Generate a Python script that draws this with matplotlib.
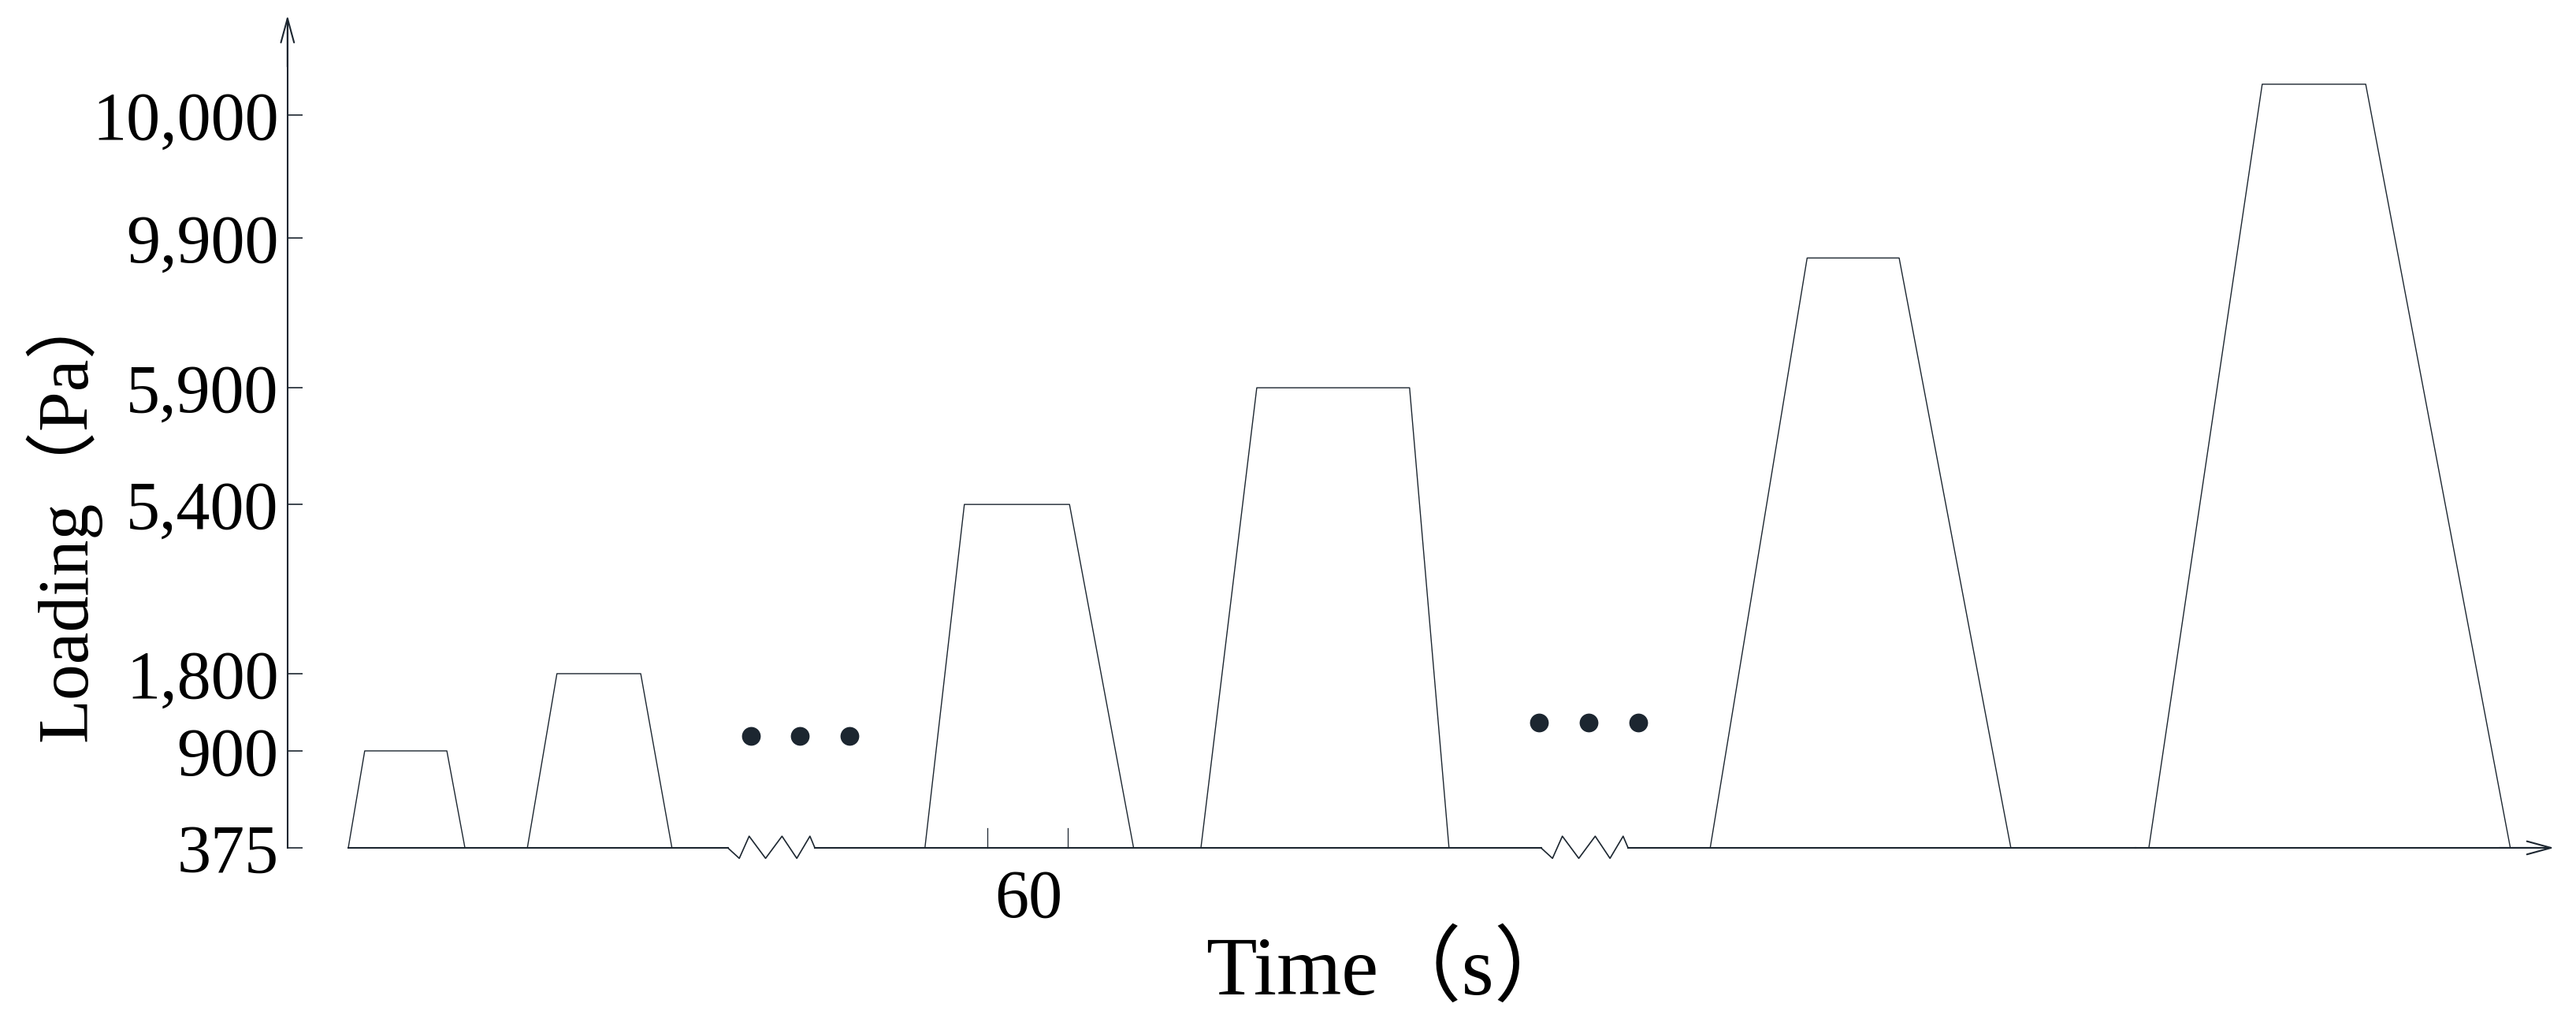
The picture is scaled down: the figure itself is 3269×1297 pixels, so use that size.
import numpy as np
import matplotlib.pyplot as plt

# y axis is not linear: each tick label sits at its own height
TICK_VALUES = [375, 900, 1800, 5400, 5900, 9900, 10000]
TICK_LABELS = ["375", "900", "1,800", "5,400", "5,900", "9,900", "10,000"]
TICK_POS = [106, 165, 212, 315, 386, 477, 552]

# trapezoid loading pulses: base start, top start, top end, base end, peak
BASE_L = [212, 321, 563, 731, 1041, 1308]
TOP_L = [222, 339, 587, 765, 1100, 1377]
TOP_R = [272, 390, 651, 858, 1156, 1440]
BASE_R = [283, 409, 690, 882, 1224, 1528]
PEAKS = [900, 1800, 5400, 5900, 9372, 10025]

BASELINE = 375
# baseline pieces between zigzag breaks
SEG_START = [212, 496, 991]
SEG_END = [443, 938, 1300]
ZIG_X0 = [443, 938]
ZIG_DX = [0, 7, 13, 23, 33, 42, 50, 53]
ZIG_DY = [0, -57, 63, -57, 63, -57, 63, 0]

DOTS_X = [[457, 487, 517], [937, 967, 997]]
DOTS_Y = [1072, 1226]

X_TICKS = [601, 650]


def fwd(v):
    v = np.asarray(v, dtype=float)
    out = np.interp(v, TICK_VALUES, TICK_POS)
    lo = (TICK_POS[1] - TICK_POS[0]) / (TICK_VALUES[1] - TICK_VALUES[0])
    hi = (TICK_POS[-1] - TICK_POS[-2]) / (TICK_VALUES[-1] - TICK_VALUES[-2])
    out = np.where(v < TICK_VALUES[0], TICK_POS[0] + (v - TICK_VALUES[0]) * lo, out)
    out = np.where(v > TICK_VALUES[-1], TICK_POS[-1] + (v - TICK_VALUES[-1]) * hi, out)
    return out


def inv(p):
    p = np.asarray(p, dtype=float)
    out = np.interp(p, TICK_POS, TICK_VALUES)
    lo = (TICK_VALUES[1] - TICK_VALUES[0]) / (TICK_POS[1] - TICK_POS[0])
    hi = (TICK_VALUES[-1] - TICK_VALUES[-2]) / (TICK_POS[-1] - TICK_POS[-2])
    out = np.where(p < TICK_POS[0], TICK_VALUES[0] + (p - TICK_POS[0]) * lo, out)
    out = np.where(p > TICK_POS[-1], TICK_VALUES[-1] + (p - TICK_POS[-1]) * hi, out)
    return out


FONT = ["Liberation Serif", "Noto Sans CJK SC"]
INK = "#1c2630"

fig = plt.figure(figsize=(32.69, 12.97), dpi=100)
ax = fig.add_axes([0, 0, 1, 1])
ax.set_yscale("function", functions=(fwd, inv))
ax.set_xlim(0, 1568)
ax.set_ylim(float(inv(0)), float(inv(622)))
for s in ["top", "right", "bottom"]:
    ax.spines[s].set_visible(False)
ax.spines["left"].set_position(("data", 175))
ax.spines["left"].set_bounds(BASELINE, float(inv(610)))
ax.spines["left"].set_color(INK)
ax.spines["left"].set_linewidth(1.5)

ax.set_yticks(TICK_VALUES)
ax.set_yticklabels(TICK_LABELS, family=FONT, fontsize=62)
ax.tick_params(axis="y", direction="in", length=14, width=1.2, color=INK, pad=8)
ax.minorticks_off()
ax.set_xticks([])

# y arrow head
ax.annotate("", xy=(175, float(inv(614))), xytext=(175, float(inv(580))),
            arrowprops=dict(arrowstyle="->,head_length=2.2,head_width=0.6",
                            color=INK, lw=1.5))

# baseline with zigzag breaks
for a, b in zip(SEG_START, SEG_END):
    ax.plot([a, b], [BASELINE, BASELINE], color=INK, lw=1.5)
for x0 in ZIG_X0:
    ax.plot([x0 + d for d in ZIG_DX], [BASELINE + d for d in ZIG_DY],
            color=INK, lw=1.2)
ax.plot([1300, 1548], [BASELINE, BASELINE], color=INK, lw=1.5)
ax.annotate("", xy=(1556, BASELINE), xytext=(1520, BASELINE),
            arrowprops=dict(arrowstyle="->,head_length=2.2,head_width=0.6",
                            color=INK, lw=1.5))

for x in X_TICKS:
    ax.plot([x, x], [BASELINE, float(inv(fwd(BASELINE) + 12))], color=INK, lw=0.9)

# pulses
for bl, tl, tr, br, pk in zip(BASE_L, TOP_L, TOP_R, BASE_R, PEAKS):
    ax.plot([bl, tl, tr, br], [BASELINE, pk, pk, BASELINE], color=INK, lw=1.0)

for xs, y in zip(DOTS_X, DOTS_Y):
    ax.scatter(xs, [y] * len(xs), s=260, color=INK, zorder=3)

ax.text(626, float(inv(74)), "60", family=FONT, fontsize=62,
        ha="center", va="center")
ax.text(847, float(inv(30)), "Time（s）", family=FONT, fontsize=76,
        ha="center", va="center")
ax.text(38, float(inv(310)), "Loading（Pa）", family=FONT, fontsize=66,
        ha="center", va="center", rotation=90)

fig.savefig("out.png", dpi=100)
